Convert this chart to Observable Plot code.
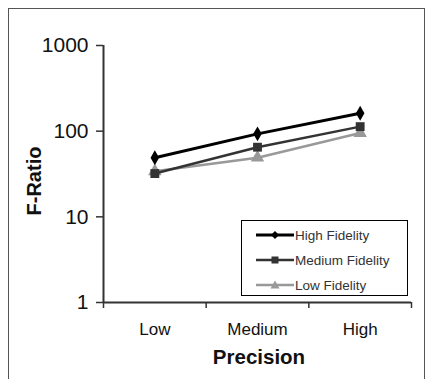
<!DOCTYPE html>
<html>
<head>
<meta charset="utf-8">
<script src="https://cdn.jsdelivr.net/npm/d3@7"></script>
<script src="https://cdn.jsdelivr.net/npm/@observablehq/plot@0.6"></script>
<style>
  body { margin: 0; background: #fff; font-family: "Liberation Sans", Arial, sans-serif; }
  #wrap { position: relative; width: 430px; height: 379px; overflow: hidden; }
  #border { position: absolute; left: 8px; top: 8px; width: 417px; height: 380px; border: 1px solid #555; border-bottom: none; box-sizing: border-box; }
  #ylab { position: absolute; left: 34px; top: 181px; transform: translate(-50%, -50%) rotate(-90deg); font-weight: bold; font-size: 20px; color: #111; white-space: nowrap; }
  #xlab { position: absolute; left: 259px; top: 357px; transform: translate(-50%, -50%); font-weight: bold; font-size: 20.5px; color: #111; white-space: nowrap; }
  #legend { position: absolute; left: 241px; top: 220px; width: 167px; height: 76px; border: 1.5px solid #000; box-sizing: border-box; background: #fff; }
  .row { position: absolute; left: 14px; height: 20px; display: flex; align-items: center; font-size: 13.5px; color: #333; white-space: nowrap; }
  .row svg { margin-right: 1px; }
</style>
</head>
<body>
<div id="wrap">
  <div id="chart"></div>
  <div id="border"></div>
  <div id="ylab">F-Ratio</div>
  <div id="xlab">Precision</div>
  <div id="legend"></div>
</div>
<script>
const categories = ["Low", "Medium", "High"];
const highFidelity = [49, 93, 162];
const mediumFidelity = [32, 65, 113];
const lowFidelity = [34, 49, 95];
const yTicks = [1, 10, 100, 1000];
const seriesNames = ["High Fidelity", "Medium Fidelity", "Low Fidelity"];
const seriesValues = [highFidelity, mediumFidelity, lowFidelity];
const seriesStyle = [
  {stroke: "#000", width: 3, symbol: "diamond", r: 4.5},
  {stroke: "#333", width: 2.5, symbol: "square", r: 5},
  {stroke: "#999", width: 2.5, symbol: "triangle", r: 5}
];

const data = [];
seriesNames.forEach((s, k) => seriesValues[k].forEach((v, i) => data.push({series: s, k, i: i + 0.5, cat: categories[i], value: v})));

const marks = [];
[2, 1, 0].forEach(k => {
  const st = seriesStyle[k];
  const d = data.filter(e => e.k === k);
  marks.push(Plot.line(d, {x: "i", y: "value", stroke: st.stroke, strokeWidth: st.width}));
  marks.push(Plot.dot(d, {x: "i", y: "value", symbol: () => st.symbol, fill: st.stroke, stroke: "none", r: st.r}));
});

const boundaries = d3.range(categories.length + 1);
const centers = categories.map((c, i) => i + 0.5);

const chart = Plot.plot({
  width: 430,
  height: 379,
  marginLeft: 103,
  marginRight: 19,
  marginTop: 45,
  marginBottom: 77,
  style: {fontFamily: "Liberation Sans, Arial, sans-serif", background: "transparent", color: "#111"},
  x: {type: "linear", domain: [0, categories.length]},
  y: {type: "log", domain: [1, 1000]},
  symbol: {type: "identity"},
  marks: [
    Plot.axisY({ticks: yTicks, tickFormat: d => String(d), tickSize: 7, tickPadding: 8, fontSize: 21, label: null, stroke: "#333", strokeWidth: 1.5}),
    Plot.axisX({ticks: boundaries, tickFormat: () => "", tickSize: 6, label: null, stroke: "#333", strokeWidth: 1.5}),
    Plot.axisX({ticks: centers, tickFormat: d => categories[Math.round(d - 0.5)], tickSize: 0, tickPadding: 20, fontSize: 17, label: null}),
    Plot.ruleX([0], {stroke: "#333", strokeWidth: 2}),
    Plot.ruleY([1], {stroke: "#333", strokeWidth: 2}),
    ...marks
  ]
});
document.getElementById("chart").appendChild(chart);

const legend = document.getElementById("legend");
const symPath = {
  diamond: "M0,-4L4,0L0,4L-4,0Z",
  square: "M-3.5,-3.5H3.5V3.5H-3.5Z",
  triangle: "M0,-4.5L4.5,3.5H-4.5Z"
};
seriesNames.forEach((s, k) => {
  const st = seriesStyle[k];
  const row = document.createElement("div");
  row.className = "row";
  row.style.top = (4 + k * 25) + "px";
  row.innerHTML = `<svg width="38" height="12" viewBox="-19 -6 38 12"><line x1="-19" x2="19" y1="0" y2="0" stroke="${st.stroke}" stroke-width="${Math.min(st.width, 3)}"/><path d="${symPath[st.symbol]}" fill="${st.stroke}"/></svg><span>${s}</span>`;
  legend.appendChild(row);
});
</script>
</body>
</html>
